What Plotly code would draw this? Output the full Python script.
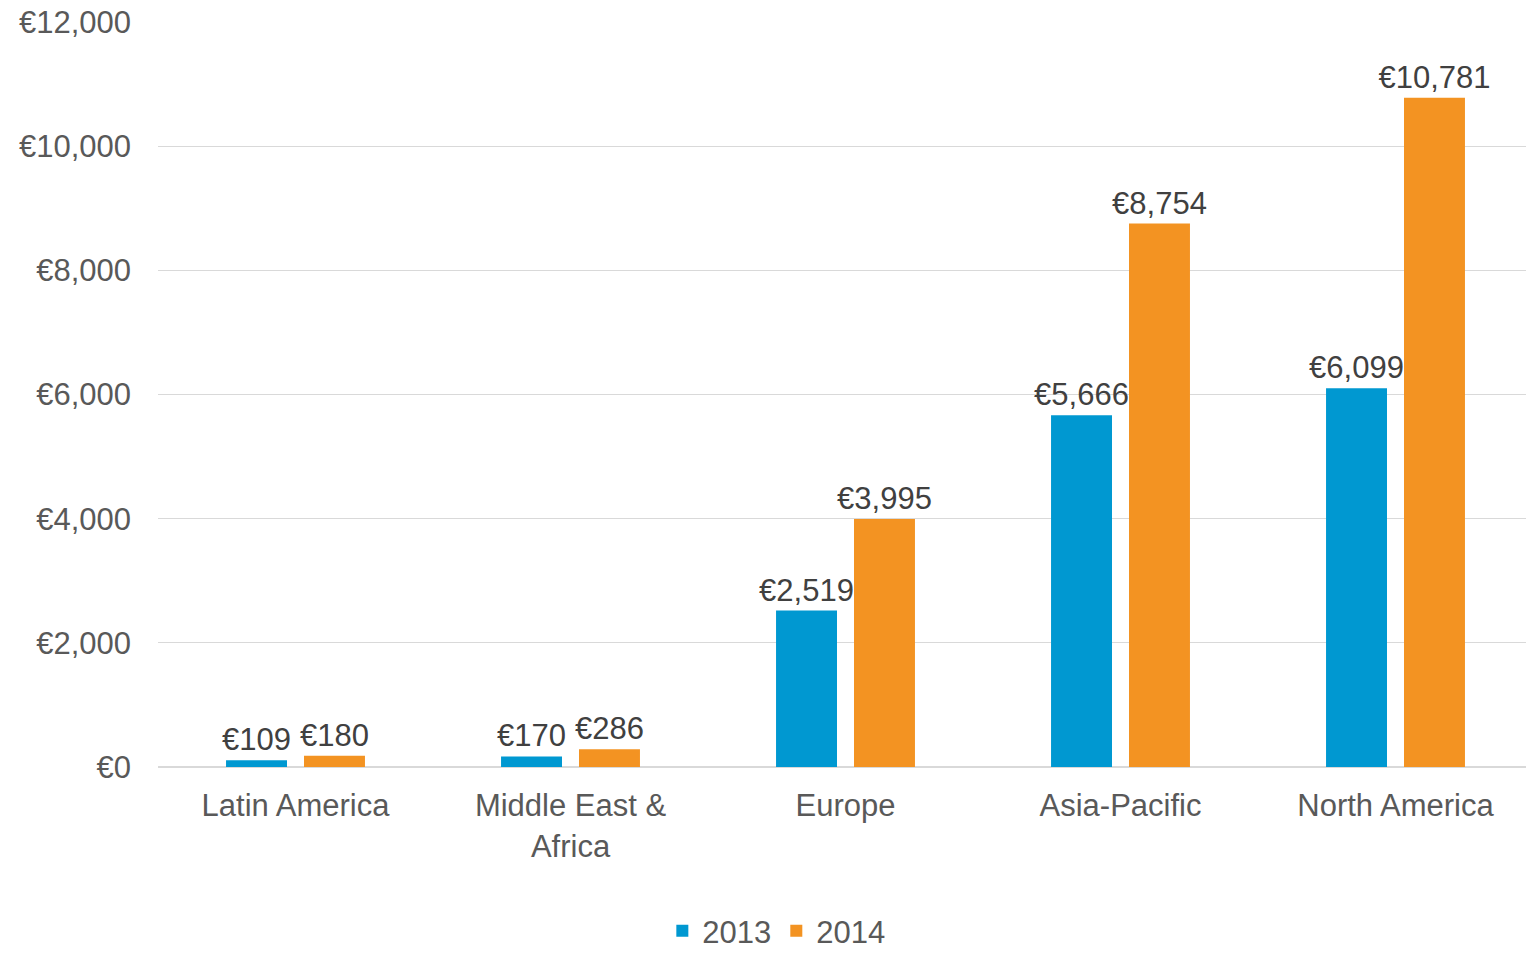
import plotly.graph_objects as go

regions = ["Latin America", "Middle East &<br>Africa", "Europe", "Asia-Pacific", "North America"]
values_2013 = [109, 170, 2519, 5666, 6099]
values_2014 = [180, 286, 3995, 8754, 10781]
series_names = ["2013", "2014"]
colors = ["#0098D1", "#F39322"]

FONT = "Liberation Sans, Arial, sans-serif"
FS = 31

fig = go.Figure()
for name, vals, col in zip(series_names, [values_2013, values_2014], colors):
    fig.add_trace(go.Bar(
        x=regions, y=vals, name=name, marker_color=col, marker_line_width=0,
        texttemplate="€%{y:,}", textposition="outside", cliponaxis=False,
        constraintext="none",
        textfont=dict(family=FONT, size=FS, color="#404040"),
    ))

fig.update_layout(
    width=1526, height=953,
    margin=dict(l=158, r=0, t=22, b=186, autoexpand=False),
    paper_bgcolor="white", plot_bgcolor="white",
    barmode="group", bargap=0.433, bargroupgap=0.218,
    font=dict(family=FONT, size=FS, color="#595959"),
    showlegend=True,
    legend=dict(orientation="h", x=0.452, xanchor="center", y=-0.2565, yanchor="bottom",
                font=dict(family=FONT, size=FS, color="#595959"), traceorder="normal"),
)
fig.update_xaxes(
    range=[-0.5, -0.5 + 1368 / 275], showgrid=False, showline=True, automargin=False,
    linecolor="#d9d9d9", linewidth=1, ticks="", ticklabelstandoff=11,
    tickfont=dict(family=FONT, size=FS, color="#595959"),
)
fig.update_yaxes(
    range=[0, 12000], dtick=2000, tickprefix="€", tickformat=",", automargin=False,
    showgrid=True, gridcolor="#d9d9d9", gridwidth=1, zeroline=True,
    zerolinecolor="#d9d9d9", showline=False, ticks="", ticklabelstandoff=26,
    tickfont=dict(family=FONT, size=FS, color="#595959"),
)

fig.write_html("out.html")
